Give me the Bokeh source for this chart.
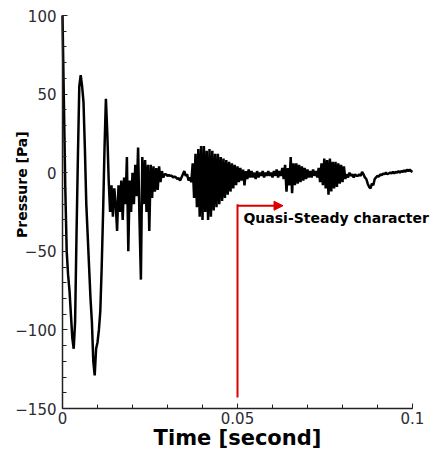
import numpy as np
from bokeh.plotting import figure
from bokeh.models import Range1d, Label, Arrow, NormalHead, SingleIntervalTicker, NumeralTickFormatter
from bokeh.embed import file_html
from bokeh.resources import INLINE

# ---- data (sampled every dt seconds) ----
dt = 0.0004
p_initial_drop = [100, 45, -10, -50, -65, -75, -90, -105, -112]
p_big_swings = [-95, -40, 10, 55, 62, 55, 45, 15, -20, -40, -60, -80, -95, -120, -129,
                -112, -108, -100, -88, -60, -25, 15, 47, 25, -5]
p_early_noise = [-25, -8, -28, -10, -20, -37, -8, -25, -5, -30,
                 -3, -20, 10, -50, -5, -25, 0, -20, 5, -15,
                 16, -30, -68, 10, -20, 8, -25, 5, -37, 5,
                 -16, 4, -12, 3, -11, 4, -6, 1, -3, -1]
p_quiet = [-1, -2, -1.5, -2, -2, -3, -2.5, -3, -4, -3.5,
           -5, -3, -1, 1, -2, -1, -5, -3, -6]
p_burst_1 = [6, -16, 12, -22, 15, -28, 17, -30, 17, -25,
             14, -30, 15, -28, 14, -24, 12, -22, 12, -20,
             10, -18, 9, -16, 8, -14, 7, -12, 6, -10,
             5, -8, 4, -6, 3, -5, 2, -8, 1, -4, 2, -3]
p_calm_1 = [1, -3, 0, -4, 1, -3, 0, -2, 1, -3,
            0, -2, 1, -2, 0, -3, 1, -2, 2, -3, 1, -2, 3, -4]
p_burst_2 = [5, -12, 3, -8, 10, -13, 6, -8, 6, -7,
             5, -6, 4, -5, 3, -4, 2, -3, 1, -3, 2, -2, 1, -3]
p_burst_3 = [3, -6, 6, -8, 9, -10, 8, -14, 9, -12,
             7, -10, 7, -9, 6, -7, 5, -6, 4, -4]
p_tail = [-1, -3, 0, -2, -1, -3, -1, -2, -2, -1,
          -2, 0.5, -1, -3, -4, -7, -9, -10, -7, -8,
          -4, -3, -2, -2.5, -1, -1.5, -0.5, -1, 0, -1,
          -0.5, 0, -0.5, 0.5, -0.5, 0.5, 0, 1, 0, 1,
          0.5, 1.5, 0.5, 2, 1, 2, 1, 0.5]

pressure = (p_initial_drop + p_big_swings + p_early_noise + p_quiet + p_burst_1
            + p_calm_1 + p_burst_2 + p_burst_3 + p_tail)
time = [round(i * dt, 6) for i in range(len(pressure))]

# axis extents (the drawing area is widened so the axis titles fit inside it)
x_start, x_end = 0.0, 0.1
y_start, y_end = -150, 100
x_view = (-0.0177143, 0.1068571)
y_view = (-176.081, 109.542)

marker_t = 0.05
marker_bottom = -143
marker_top = -20
arrow_y = -21
arrow_end_t = 0.063
note_text = "Quasi-Steady character"
x_title = "Time [second]"
y_title = "Pressure [Pa]"

RED = "#dd0000"

p = figure(width=436, height=449, output_backend="svg", toolbar_location=None,
           x_range=Range1d(*x_view), y_range=Range1d(*y_view),
           min_border_left=0, min_border_right=0, min_border_top=0, min_border_bottom=0)

p.background_fill_color = "white"
p.border_fill_color = "white"
p.outline_line_color = None
p.grid.visible = False

p.xaxis.fixed_location = y_start
p.yaxis.fixed_location = x_start
p.xaxis.bounds = (x_start, x_end)
p.yaxis.bounds = (y_start, y_end)
p.xaxis.ticker = SingleIntervalTicker(interval=0.05, num_minor_ticks=5)
p.yaxis.ticker = SingleIntervalTicker(interval=50, num_minor_ticks=5)
p.xaxis.formatter = NumeralTickFormatter(format="0.[00]")

for ax in (p.xaxis, p.yaxis):
    ax.axis_line_color = "#222222"
    ax.axis_line_width = 1.5
    ax.major_tick_in = 5
    ax.major_tick_out = 0
    ax.minor_tick_in = 4
    ax.minor_tick_out = 0
    ax.major_tick_line_color = "#222222"
    ax.minor_tick_line_color = "#222222"
    ax.major_label_text_font = "DejaVu Sans"
    ax.major_label_text_font_size = "15px"
    ax.major_label_text_color = "#2b2b33"
p.xaxis.major_label_standoff = 3
p.yaxis.major_label_standoff = 6

p.line(time, pressure, line_color="black", line_width=2.5)

p.line([marker_t, marker_t], [marker_bottom, marker_top], line_color=RED, line_width=2)
p.add_layout(Arrow(end=NormalHead(size=9, fill_color=RED, line_color=RED),
                   x_start=marker_t, y_start=arrow_y, x_end=arrow_end_t, y_end=arrow_y,
                   line_color=RED, line_width=2))

p.add_layout(Label(x=0.0517, y=-28.6, text=note_text, text_align="left", text_baseline="middle",
                   text_font="DejaVu Sans", text_font_size="14px", text_font_style="bold",
                   text_color="black"))
p.add_layout(Label(x=0.05, y=-168.6, text=x_title, text_align="center", text_baseline="middle",
                   text_font="DejaVu Sans", text_font_size="21px", text_font_style="bold",
                   text_color="black"))
p.add_layout(Label(x=-0.01143, y=-7.6, text=y_title, angle=np.pi / 2, text_align="center",
                   text_baseline="middle", text_font="DejaVu Sans", text_font_size="14px",
                   text_font_style="bold", text_color="black"))

open("out.html", "w").write(file_html(p, INLINE))
